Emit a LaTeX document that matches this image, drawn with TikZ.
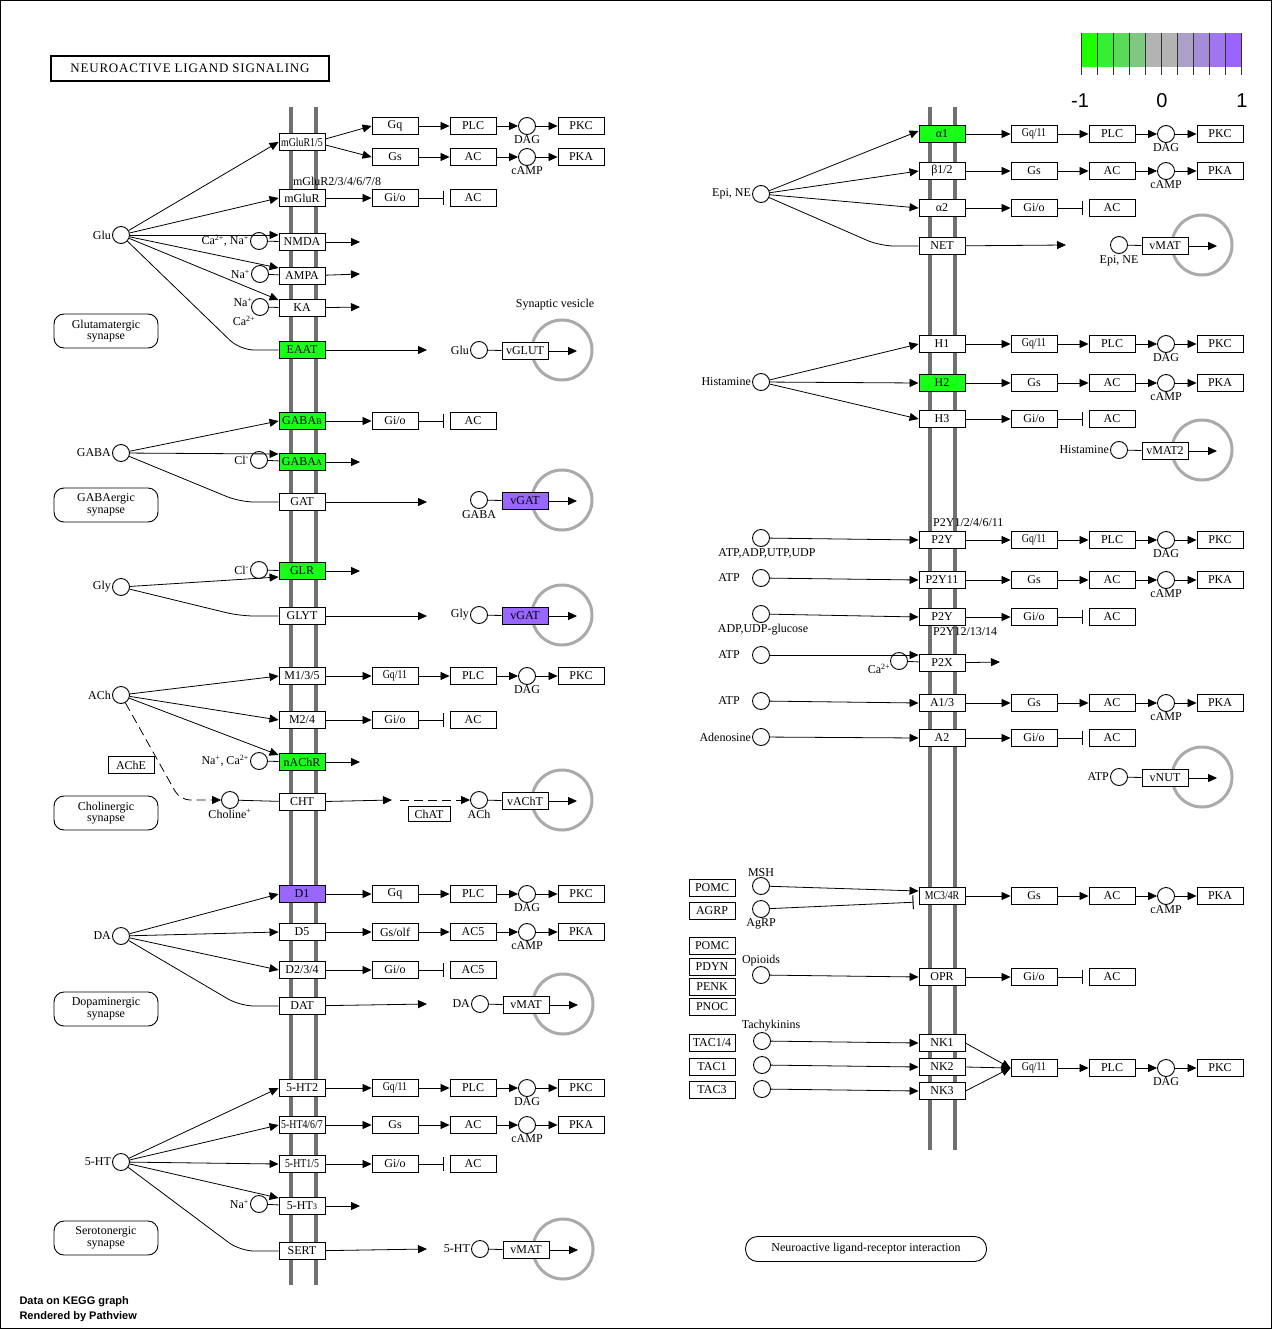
\documentclass[tikz,border=0pt]{standalone}
\usepackage{fontspec}
\usepackage{graphicx}
\setmainfont{Liberation Serif}
\newfontfamily\legendsans{Liberation Sans}
\usetikzlibrary{arrows.meta}

\definecolor{upgreen}{RGB}{24,255,24}
\definecolor{uppurple}{RGB}{153,102,255}
\definecolor{membrane}{RGB}{112,112,112}
\definecolor{vesgray}{RGB}{170,170,170}
\definecolor{lg1}{RGB}{30,255,0}
\definecolor{lg2}{RGB}{55,238,55}
\definecolor{lg3}{RGB}{88,220,88}
\definecolor{lg4}{RGB}{128,200,128}
\definecolor{lg5}{RGB}{179,179,179}
\definecolor{lg6}{RGB}{179,179,179}
\definecolor{lg7}{RGB}{170,160,200}
\definecolor{lg8}{RGB}{165,140,216}
\definecolor{lg9}{RGB}{160,118,236}
\definecolor{lg10}{RGB}{155,100,255}

\newcommand\kf{\fontsize{12}{13}\selectfont}
\newcommand\sq[1]{\scalebox{0.82}[1]{#1}}

\tikzset{
  gene/.style={draw, fill=white, line width=0.9pt, minimum width=46pt, minimum height=17pt, inner sep=0pt, font=\kf},
  cpd/.style={circle, draw, fill=white, line width=0.9pt, minimum size=17pt, inner sep=0pt},
  kl/.style={font=\kf, inner sep=1pt},
  act/.style={line width=0.8pt, -{Triangle[length=9pt,width=8pt]}},
  inh/.style={line width=0.8pt, -{Bar[width=14pt,line width=1pt]}, shorten >=6pt},
  link/.style={line width=0.8pt},
  mem/.style={line width=4.5pt, draw=membrane},
  ves/.style={circle, draw=vesgray, line width=3pt, minimum size=60pt, inner sep=0pt},
  synbox/.style={draw, rounded corners=10pt, minimum width=104pt, minimum height=34pt, align=center,
                 font=\fontsize{12}{11.5}\selectfont, line width=0.9pt},
}

% G protein -> effector -> second messenger -> kinase
\newcommand\stim[8]{%
  \node[gene] (#1g) at (#2,#3) {#5};
  \node[gene] (#1e) at (#2+78,#3) {#6};
  \node[cpd,label={[kl,inner sep=0pt]below:#7}] (#1m) at (#2+132,#3) {};
  \node[gene] (#1k) at (#2+186,#3) {#8};
  \draw[act] (#4) -- (#1g.west);
  \draw[act] (#1g) -- (#1e);
  \draw[act] (#1e) -- (#1m);
  \draw[act] (#1m) -- (#1k);
}
% G protein --| effector
\newcommand\inhib[6]{%
  \node[gene] (#1g) at (#2,#3) {#5};
  \node[gene] (#1e) at (#2+78,#3) {#6};
  \draw[act] (#4) -- (#1g.west);
  \draw[inh] (#1g) -- (#1e);
}
% vesicular uptake: compound, transporter and vesicle
\newcommand\vesgroup[6]{%
  \node[ves] (#1v) at (#2+83,#3) {};
  \node[cpd,label={[kl]#4}] (#1c) at (#2,#3) {};
  \node[gene,fill=#6] (#1t) at (#2+46,#3+1) {#5};
  \coordinate (#1o) at (#2+98,#3+1);
  \draw[link] (#1c) -- (#1t);
  \draw[act] (#1t) -- (#1o);
}

\begin{document}
\begin{tikzpicture}[x=1pt,y=-1pt]
\useasboundingbox (0,0) rectangle (1272,1329);
\fill[white] (0,0) rectangle (1272,1329);
\draw[line width=1pt] (0.5,0.5) rectangle (1271.5,1328.5);

% membranes
\draw[mem] (291,107) -- (291,1285);
\draw[mem] (316,107) -- (316,1285);
\draw[mem] (930,107) -- (930,1150);
\draw[mem] (955,107) -- (955,1150);

% title and legend
\node[draw, line width=1.6pt, minimum width=278pt, minimum height=25pt, inner sep=0pt,
      font=\fontsize{13}{13}\selectfont\addfontfeature{LetterSpace=6}] (title) at (190,68.5)
      {NEUROACTIVE\ LIGAND\ SIGNALING};
\foreach \i in {1,...,10}
  \fill[lg\i] (1081+16*\i-16,33) rectangle (1081+16*\i,67);
\foreach \i in {0,...,10}
  \draw[line width=0.8pt, black!80] (1081+16*\i,33) -- (1081+16*\i,75);
\node[font=\legendsans\fontsize{20}{20}\selectfont] (lmin) at (1080,101) {-1};
\node[font=\legendsans\fontsize{20}{20}\selectfont] (lmid) at (1162,101) {0};
\node[font=\legendsans\fontsize{20}{20}\selectfont] (lmax) at (1242,101) {1};
\node[anchor=west, font=\legendsans\bfseries\fontsize{11}{11}\selectfont] (credit1) at (16,1302) {Data on KEGG graph};
\node[anchor=west, font=\legendsans\bfseries\fontsize{11}{11}\selectfont] (credit2) at (16,1317) {Rendered by Pathview};

% synapse links
\node[synbox] (glusyn) at (106,331) {Glutamatergic\\synapse};
\node[synbox] (gabasyn) at (106,505) {GABAergic\\synapse};
\node[synbox] (achsyn) at (106,813) {Cholinergic\\synapse};
\node[synbox] (dasyn) at (106,1009) {Dopaminergic\\synapse};
\node[synbox] (htsyn) at (106,1238) {Serotonergic\\synapse};
\node[synbox, minimum width=241pt, minimum height=25pt, rounded corners=12pt] (nlri) at (866,1249)
      {Neuroactive ligand-receptor interaction};

% ---------------- glutamate ----------------
\node[cpd,label={[kl]left:Glu}] (glu) at (121,235) {};
\node[gene] (mglur15) at (302,142) {\sq{mGluR1/5}};
\node[gene] (mglur) at (302,198) {mGluR};
\node[kl] (mglurlab) at (337,181) {mGluR2/3/4/6/7/8};
\node[gene] (nmda) at (302,242) {NMDA};
\node[gene] (ampa) at (302,276) {AMPA};
\node[gene] (ka) at (302,308) {KA};
\node[gene,fill=upgreen] (eaat) at (302,350) {EAAT};
\node[cpd,label={[kl]left:Ca\textsuperscript{2+}, Na\textsuperscript{+}}] (ionnmda) at (259,241) {};
\node[cpd,label={[kl]left:Na\textsuperscript{+}}] (ionampa) at (260,274) {};
\node[cpd] (ionka) at (260,307) {};
\node[kl] (kana) at (243,302) {Na\textsuperscript{+}};
\node[kl] (kaca) at (244,321) {Ca\textsuperscript{2+}};
\draw[act] (glu) -- (mglur15.west);
\draw[act] (glu) -- (mglur.west);
\draw[act] (glu) -- ([yshift=7pt]nmda.west);
\draw[act] (glu) -- ([yshift=8pt]ampa.west);
\draw[act] (glu) -- ([yshift=8pt]ka.west);
\draw[link, rounded corners=14pt] (glu) -- (240,350) -- (eaat.west);
\draw[link] (ionnmda) -- (nmda);
\draw[link] (ionampa) -- (ampa);
\draw[link] (ionka) -- (ka);
\draw[act] (nmda) -- ++(58,0);
\draw[act] (ampa) -- ++(58,-2);
\draw[act] (ka) -- ++(58,-1);
\draw[act] (eaat) -- ++(125,0);
\stim{ga}{395}{126}{[yshift=3pt]mglur15.east}{Gq}{PLC}{DAG}{PKC}
\stim{gb}{395}{157}{[yshift=-3pt]mglur15.east}{Gs}{AC}{cAMP}{PKA}
\inhib{gc}{395}{198}{mglur.east}{Gi/o}{AC}
\vesgroup{va}{479}{350}{left:Glu}{vGLUT}{white}
\node[kl] (svlab) at (555,305) {Synaptic vesicle};

% ---------------- GABA ----------------
\node[cpd,label={[kl]left:GABA}] (gaba) at (121,453) {};
\node[gene,fill=upgreen] (gabab) at (302,421) {GABA{\fontsize{8.5}{8}\selectfont B}};
\node[gene,fill=upgreen] (gabaa) at (302,462) {GABA{\fontsize{8.5}{8}\selectfont A}};
\node[gene] (gat) at (302,502) {GAT};
\node[cpd,label={[kl]left:Cl\textsuperscript{-}}] (clgaba) at (259,460) {};
\draw[act] (gaba) -- (gabab.west);
\draw[act] (gaba) -- ([yshift=8pt]gabaa.west);
\draw[link, rounded corners=14pt] (gaba) -- (240,502) -- (gat.west);
\draw[link] (clgaba) -- (gabaa);
\draw[act] (gabaa) -- ++(58,0);
\draw[act] (gat) -- ++(125,0);
\inhib{gd}{395}{421}{gabab.east}{Gi/o}{AC}
\vesgroup{vb}{479}{500}{below:GABA}{vGAT}{uppurple}

% ---------------- glycine ----------------
\node[cpd,label={[kl]left:Gly}] (gly) at (121,587) {};
\node[gene,fill=upgreen] (glr) at (302,571) {GLR};
\node[gene] (glyt) at (302,616) {GLYT};
\node[cpd,label={[kl]left:Cl\textsuperscript{-}}] (clgly) at (259,570) {};
\draw[act] (gly) -- ([yshift=-6pt]glr.west);
\draw[link, rounded corners=14pt] (gly) -- (240,616) -- (glyt.west);
\draw[link] (clgly) -- (glr);
\draw[act] (glr) -- ++(58,0);
\draw[act] (glyt) -- ++(125,0);
\vesgroup{vc}{479}{615}{left:Gly}{vGAT}{uppurple}

% ---------------- acetylcholine ----------------
\node[cpd,label={[kl]left:ACh}] (ach) at (121,695) {};
\node[gene] (m135) at (302,676) {M1/3/5};
\node[gene] (m24) at (302,720) {M2/4};
\node[gene,fill=upgreen] (nachr) at (302,762) {nAChR};
\node[gene] (cht) at (302,802) {CHT};
\node[cpd,label={[kl]left:Na\textsuperscript{+}, Ca\textsuperscript{2+}}] (ionach) at (259,761) {};
\node[cpd,label={[kl,inner sep=0pt]below:Choline\textsuperscript{+}}] (choline) at (230,800) {};
\node[gene] (ache) at (131,765) {AChE};
\node[gene, minimum width=42pt, minimum height=15pt] (chat) at (429,814) {ChAT};
\draw[act] (ach) -- (m135.west);
\draw[act] (ach) -- (m24.west);
\draw[act] (ach) -- ([yshift=7pt]nachr.west);
\draw[link] (ionach) -- (nachr);
\draw[act] (nachr) -- ++(58,0);
\draw[act, dash pattern=on 9pt off 5pt, rounded corners=10pt] (ach) -- (180,800) -- (choline);
\draw[link] (choline) -- (cht);
\coordinate (chtout) at (392,800);
\coordinate (chatin) at (400,800);
\draw[act] (cht) -- (chtout);
\stim{ge}{395}{676}{m135.east}{\sq{Gq/11}}{PLC}{DAG}{PKC}
\inhib{gf}{395}{720}{m24.east}{Gi/o}{AC}
\vesgroup{vd}{479}{800}{below:ACh}{vAChT}{white}
\draw[act, dash pattern=on 9pt off 5pt] (chatin) -- (vdc);

% ---------------- dopamine ----------------
\node[cpd,label={[kl]left:DA}] (da) at (121,936) {};
\node[gene,fill=uppurple] (d1) at (302,894) {D1};
\node[gene] (d5) at (302,932) {D5};
\node[gene] (d234) at (302,970) {D2/3/4};
\node[gene] (dat) at (302,1006) {DAT};
\draw[act] (da) -- (d1.west);
\draw[act] (da) -- (d5.west);
\draw[act] (da) -- (d234.west);
\draw[link, rounded corners=14pt] (da) -- (240,1006) -- (dat.west);
\draw[act] (dat) -- ++(125,-2);
\stim{gg}{395}{894}{d1.east}{Gq}{PLC}{DAG}{PKC}
\stim{gh}{395}{932}{d5.east}{Gs/olf}{AC5}{cAMP}{PKA}
\inhib{gi}{395}{970}{d234.east}{Gi/o}{AC5}
\vesgroup{ve}{480}{1004}{left:DA}{vMAT}{white}

% ---------------- serotonin ----------------
\node[cpd,label={[kl]left:5-HT}] (ht) at (121,1162) {};
\node[gene] (ht2) at (302,1088) {5-HT2};
\node[gene] (ht467) at (302,1125) {\sq{5-HT4/6/7}};
\node[gene] (ht15) at (302,1164) {\sq{5-HT1/5}};
\node[gene] (ht3) at (302,1206) {5-HT{\fontsize{8.5}{8}\selectfont 3}};
\node[gene] (sert) at (302,1251) {SERT};
\node[cpd,label={[kl]left:Na\textsuperscript{+}}] (ionht) at (259,1204) {};
\draw[act] (ht) -- (ht2.west);
\draw[act] (ht) -- (ht467.west);
\draw[act] (ht) -- (ht15.west);
\draw[act] (ht) -- ([yshift=8pt]ht3.west);
\draw[link, rounded corners=14pt] (ht) -- (240,1251) -- (sert.west);
\draw[link] (ionht) -- (ht3);
\draw[act] (ht3) -- ++(58,0);
\draw[act] (sert) -- ++(125,-2);
\stim{gj}{395}{1088}{ht2.east}{\sq{Gq/11}}{PLC}{DAG}{PKC}
\stim{gk}{395}{1125}{ht467.east}{Gs}{AC}{cAMP}{PKA}
\inhib{gl}{395}{1164}{ht15.east}{Gi/o}{AC}
\vesgroup{vf}{480}{1249}{left:5-HT}{vMAT}{white}

% ---------------- adrenergic ----------------
\node[cpd,label={[kl]left:{Epi, NE}}] (epi) at (761,194) {};
\node[gene,fill=upgreen] (a1) at (942,134) {α1};
\node[gene] (b12) at (942,171) {β1/2};
\node[gene] (a2) at (942,208) {α2};
\node[gene] (net) at (942,246) {NET};
\draw[act] (epi) -- ([yshift=3pt]a1.west);
\draw[act] (epi) -- (b12.west);
\draw[act] (epi) -- (a2.west);
\draw[link, rounded corners=14pt] (epi) -- (880,246) -- (net.west);
\draw[act] (net) -- ++(124,-1);
\stim{ra}{1034}{134}{a1.east}{\sq{Gq/11}}{PLC}{DAG}{PKC}
\stim{rb}{1034}{171}{b12.east}{Gs}{AC}{cAMP}{PKA}
\inhib{rc}{1034}{208}{a2.east}{Gi/o}{AC}
\vesgroup{vg}{1119}{245}{below:{Epi, NE}}{vMAT}{white}

% ---------------- histamine ----------------
\node[cpd,label={[kl]left:Histamine}] (his) at (761,382) {};
\node[gene] (h1) at (942,344) {H1};
\node[gene,fill=upgreen] (h2) at (942,383) {H2};
\node[gene] (h3) at (942,419) {H3};
\draw[act] (his) -- (h1.west);
\draw[act] (his) -- (h2.west);
\draw[act] (his) -- (h3.west);
\stim{rd}{1034}{344}{h1.east}{\sq{Gq/11}}{PLC}{DAG}{PKC}
\stim{re}{1034}{383}{h2.east}{Gs}{AC}{cAMP}{PKA}
\inhib{rf}{1034}{419}{h3.east}{Gi/o}{AC}
\vesgroup{vh}{1119}{450}{left:Histamine}{vMAT2}{white}

% ---------------- purinergic ----------------
\node[cpd] (nuc1) at (761,538) {};
\node[kl] (nuc1lab) at (767,553) {ATP,ADP,UTP,UDP};
\node[cpd] (atp1) at (761,578) {};
\node[kl] (atp1lab) at (729,578) {ATP};
\node[cpd] (nuc2) at (761,614) {};
\node[kl] (nuc2lab) at (763,630) {ADP,UDP-glucose};
\node[cpd] (atp2) at (761,655) {};
\node[kl] (atp2lab) at (729,655) {ATP};
\node[cpd] (atp3) at (761,701) {};
\node[kl] (atp3lab) at (729,701) {ATP};
\node[cpd,label={[kl]left:Adenosine}] (ado) at (761,737) {};
\node[gene] (p2ya) at (942,540) {P2Y};
\node[kl, anchor=west] (p2yalab) at (932,523) {P2Y1/2/4/6/11};
\node[gene] (p2y11) at (942,580) {P2Y11};
\node[gene] (p2yb) at (942,617) {P2Y};
\node[kl, anchor=west] (p2yblab) at (932,632) {P2Y12/13/14};
\node[gene] (p2x) at (942,663) {P2X};
\node[gene] (a13) at (942,703) {A1/3};
\node[gene] (a2r) at (942,738) {A2};
\node[cpd] (cap2x) at (899,661) {};
\node[kl] (cap2xlab) at (879,669) {Ca\textsuperscript{2+}};
\draw[act] (nuc1) -- (p2ya.west);
\draw[act] (atp1) -- (p2y11.west);
\draw[act] (nuc2) -- (p2yb.west);
\draw[act] (atp2) -- ([yshift=8pt]p2x.west);
\draw[act] (atp3) -- (a13.west);
\draw[act] (ado) -- (a2r.west);
\draw[link] (cap2x) -- (p2x);
\draw[act] (p2x) -- ++(58,-1);
\stim{rg}{1034}{540}{p2ya.east}{\sq{Gq/11}}{PLC}{DAG}{PKC}
\stim{rh}{1034}{580}{p2y11.east}{Gs}{AC}{cAMP}{PKA}
\inhib{ri}{1034}{617}{p2yb.east}{Gi/o}{AC}
\stim{rj}{1034}{703}{a13.east}{Gs}{AC}{cAMP}{PKA}
\inhib{rk}{1034}{738}{a2r.east}{Gi/o}{AC}
\vesgroup{vi}{1119}{777}{left:ATP}{vNUT}{white}

% ---------------- peptides ----------------
\node[gene] (pomc1) at (712,888) {POMC};
\node[gene] (agrpg) at (712,911) {AGRP};
\node[gene] (pomc2) at (712,946) {POMC};
\node[gene] (pdyn) at (712,967) {PDYN};
\node[gene] (penk) at (712,987) {PENK};
\node[gene] (pnoc) at (712,1007) {PNOC};
\node[gene] (tac14) at (712,1043) {TAC1/4};
\node[gene] (tac1) at (712,1067) {TAC1};
\node[gene] (tac3) at (712,1090) {TAC3};
\node[cpd,label={[kl,inner sep=0pt]above:MSH}] (msh) at (761,886) {};
\node[cpd,label={[kl,inner sep=0pt]below:AgRP}] (agrp) at (761,909) {};
\node[cpd,label={[kl,inner sep=0pt]above:Opioids}] (opi) at (761,975) {};
\node[kl] (tklab) at (771,1026) {Tachykinins};
\node[cpd] (tk1) at (762,1041) {};
\node[cpd] (tk2) at (762,1065) {};
\node[cpd] (tk3) at (762,1089) {};
\node[gene] (mc34) at (942,896) {\sq{MC3/4R}};
\node[gene] (opr) at (942,977) {OPR};
\node[gene] (nk1) at (942,1043) {NK1};
\node[gene] (nk2) at (942,1067) {NK2};
\node[gene] (nk3) at (942,1091) {NK3};
\draw[act] (msh) -- ([yshift=5pt]mc34.west);
\draw[inh, shorten >=5pt] (agrp) -- ([yshift=-6pt]mc34.west);
\draw[act] (opi) -- (opr.west);
\draw[act] (tk1) -- (nk1.west);
\draw[act] (tk2) -- (nk2.west);
\draw[act] (tk3) -- (nk3.west);
\stim{rl}{1034}{896}{mc34.east}{Gs}{AC}{cAMP}{PKA}
\inhib{rm}{1034}{977}{opr.east}{Gi/o}{AC}
\stim{rn}{1034}{1068}{nk2.east}{\sq{Gq/11}}{PLC}{DAG}{PKC}
\draw[act] (nk1.east) -- (rng.west);
\draw[act] (nk3.east) -- (rng.west);
\end{tikzpicture}
\end{document}
